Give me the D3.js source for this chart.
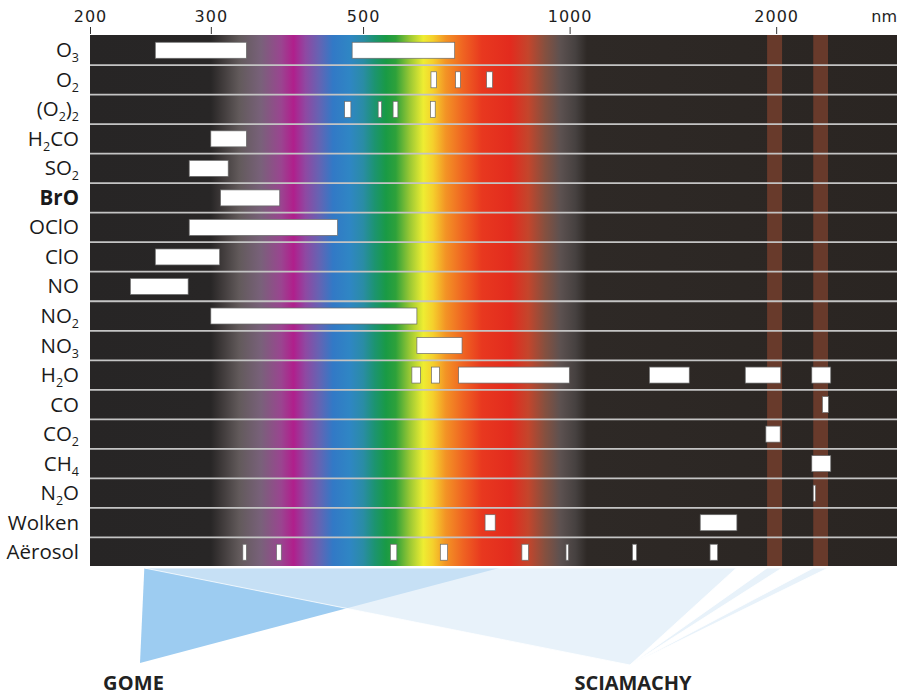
<!DOCTYPE html>
<html>
<head>
<meta charset="utf-8">
<script src="https://cdn.jsdelivr.net/npm/d3@7"></script>
<style>
  body { margin: 0; background: #fff; }
  svg { display: block; }
  .tick text { font-family: "DejaVu Sans", sans-serif; font-size: 16px; fill: #1e1e1e; letter-spacing: 1px; }
  .tick line { stroke: #333; }
  .row-label { font-family: "Open Sans", sans-serif; font-size: 20.5px; fill: #1a1a1a; }
  .instr-label { font-family: "Open Sans", sans-serif; font-size: 20px; font-weight: 700; fill: #222; }
</style>
</head>
<body>
<svg id="chart"></svg>
<script>
// species (rows), top to bottom
const species = ['O3', 'O2', '(O2)2', 'H2CO', 'SO2', 'BrO', 'OClO', 'ClO', 'NO', 'NO2',
  'NO3', 'H2O', 'CO', 'CO2', 'CH4', 'N2O', 'Wolken', 'Aërosol'];
const boldSpecies = ['BrO'];

// absorption windows in nm: [species, from, to]
const bands = [
  ['O3', 249, 338], ['O3', 482, 680],
  ['O2', 628, 640], ['O2', 682, 693], ['O2', 757, 772],
  ['(O2)2', 470, 480], ['(O2)2', 526, 532], ['(O2)2', 553, 562], ['(O2)2', 627, 637],
  ['H2CO', 300, 338],
  ['SO2', 279, 318],
  ['BrO', 310, 378],
  ['OClO', 279, 459],
  ['ClO', 249, 309],
  ['NO', 229, 278],
  ['NO2', 300, 599],
  ['NO3', 599, 697],
  ['H2O', 589, 606], ['H2O', 629, 646], ['H2O', 689, 999], ['H2O', 1307, 1494],
  ['H2O', 1803, 2031], ['H2O', 2254, 2402],
  ['CO', 2336, 2383],
  ['CO2', 1932, 2027],
  ['CH4', 2254, 2402],
  ['N2O', 2265, 2282],
  ['Wolken', 753, 779], ['Wolken', 1550, 1753],
  ['Aërosol', 334, 338], ['Aërosol', 374, 380], ['Aërosol', 548, 560], ['Aërosol', 648, 664],
  ['Aërosol', 852, 871], ['Aërosol', 988, 996], ['Aërosol', 1235, 1252], ['Aërosol', 1602, 1643]
];

const tickValues = [200, 300, 500, 1000, 2000];
const gomeRanges = [[240, 790]];
const sciaRanges = [[240, 1750], [1940, 2040], [2265, 2380]];
const sciaIrChannels = [[1940, 2040], [2265, 2380]];

// spectrum colour stops [nm, colour]
const spectrum = [
  [200, '#272525'], [300, '#282626'], [312, '#403b3b'], [330, '#625a5b'],
  [355, '#79617a'], [380, '#9a4590'], [396, '#b01f8c'], [412, '#8f48a2'],
  [432, '#6464b4'], [452, '#3279c6'], [478, '#2f86c4'], [500, '#2a8ca6'],
  [520, '#1c9470'], [540, '#199a45'], [558, '#2ea13a'], [585, '#9ac834'],
  [612, '#eeed32'], [632, '#f5d02c'], [660, '#f39325'], [700, '#ef6322'],
  [745, '#e8381f'], [820, '#e22b1e'], [870, '#c4452c'], [920, '#86503f'],
  [970, '#5c5150'], [1020, '#464140'], [1060, '#2e2926'], [3000, '#2a2522']
];

const W = 909, H = 697;
const plotLeft = 90, plotRight = 897, plotTop = 35, plotBottom = 566;

const svg = d3.select('#chart').attr('width', W).attr('height', H);

const x = d3.scaleLog().domain([200, 3000]).range([plotLeft, plotRight]);
const y = d3.scaleBand().domain(species).range([plotTop + 0.5, plotBottom + 1]);

const defs = svg.append('defs');
const grad = defs.append('linearGradient')
    .attr('id', 'spec')
    .attr('gradientUnits', 'userSpaceOnUse')
    .attr('x1', plotLeft).attr('x2', plotRight).attr('y1', 0).attr('y2', 0);
grad.selectAll('stop')
    .data(spectrum)
  .join('stop')
    .attr('offset', d => (x(d[0]) - plotLeft) / (plotRight - plotLeft))
    .attr('stop-color', d => d[1]);

// instrument coverage triangles
const tri = svg.append('g');
const triTop = plotBottom + 2;
tri.selectAll('.gome')
    .data(gomeRanges)
  .join('path')
    .attr('class', 'gome')
    .attr('d', d => `M${x(d[0])},${triTop}L${x(d[1])},${triTop}L140,663Z`)
    .attr('fill', '#9dccf1');
tri.selectAll('.scia')
    .data(sciaRanges)
  .join('path')
    .attr('class', 'scia')
    .attr('d', d => `M${x(d[0])},${triTop}L${x(d[1])},${triTop}L630,665Z`)
    .attr('fill', '#dcebf8')
    .attr('fill-opacity', 0.65)
    .attr('stroke', '#fff')
    .attr('stroke-width', 0.8);

// chart body
svg.append('rect')
    .attr('x', plotLeft).attr('y', plotTop)
    .attr('width', plotRight - plotLeft).attr('height', plotBottom - plotTop)
    .attr('fill', 'url(#spec)');

svg.selectAll('.ir')
    .data(sciaIrChannels)
  .join('rect')
    .attr('class', 'ir')
    .attr('x', d => x(d[0]))
    .attr('width', d => x(d[1]) - x(d[0]))
    .attr('y', plotTop).attr('height', plotBottom - plotTop)
    .attr('fill', '#683a2b');

// row separators
svg.selectAll('.sep')
    .data(species.slice(1))
  .join('line')
    .attr('class', 'sep')
    .attr('x1', plotLeft).attr('x2', plotRight)
    .attr('y1', d => y(d)).attr('y2', d => y(d))
    .attr('stroke', '#c4c4c4')
    .attr('stroke-width', 1.8);

// absorption boxes
const boxH = 16;
svg.selectAll('.band')
    .data(bands)
  .join('rect')
    .attr('class', 'band')
    .attr('x', d => x(d[1]))
    .attr('width', d => Math.max(2, x(d[2]) - x(d[1])))
    .attr('y', d => y(d[0]) + (y.bandwidth() - boxH) / 2)
    .attr('height', boxH)
    .attr('fill', '#fff')
    .attr('stroke', '#6a6a6a')
    .attr('stroke-width', 0.7);

// top axis
const xAxis = d3.axisTop(x)
    .tickValues(tickValues)
    .tickFormat(d3.format('d'))
    .tickSize(7)
    .tickPadding(5);
svg.append('g')
    .attr('transform', `translate(0,${plotTop - 1})`)
    .call(xAxis)
    .call(g => g.select('.domain').remove());

svg.append('text')
    .attr('x', plotRight).attr('y', 22)
    .attr('text-anchor', 'end')
    .style('font-family', '"DejaVu Sans", sans-serif')
    .style('font-size', '16px')
    .style('fill', '#1e1e1e')
    .text('nm');

// row labels, digits as subscripts
const labels = svg.selectAll('.row-label')
    .data(species)
  .join('text')
    .attr('class', 'row-label')
    .attr('x', 79)
    .attr('y', d => y(d) + y.bandwidth() / 2 + 7)
    .attr('text-anchor', 'end')
    .style('font-weight', d => boldSpecies.includes(d) ? 700 : 400);

labels.each(function(d) {
  const t = d3.select(this);
  const parts = d.match(/\d+|\D+/g);
  let sub = false;
  parts.forEach(p => {
    const isNum = /\d/.test(p);
    const ts = t.append('tspan').text(p);
    if (isNum && !sub) { ts.attr('dy', 5).style('font-size', '12.5px'); sub = true; }
    else if (isNum) { ts.style('font-size', '12.5px'); }
    else if (sub) { ts.attr('dy', -5); sub = false; }
  });
});

svg.append('text')
    .attr('class', 'instr-label')
    .attr('x', 133.5).attr('y', 690)
    .attr('text-anchor', 'middle')
    .attr('textLength', 61)
    .text('GOME');

svg.append('text')
    .attr('class', 'instr-label')
    .attr('x', 633).attr('y', 690)
    .attr('text-anchor', 'middle')
    .attr('textLength', 117)
    .text('SCIAMACHY');
</script>
</body>
</html>
